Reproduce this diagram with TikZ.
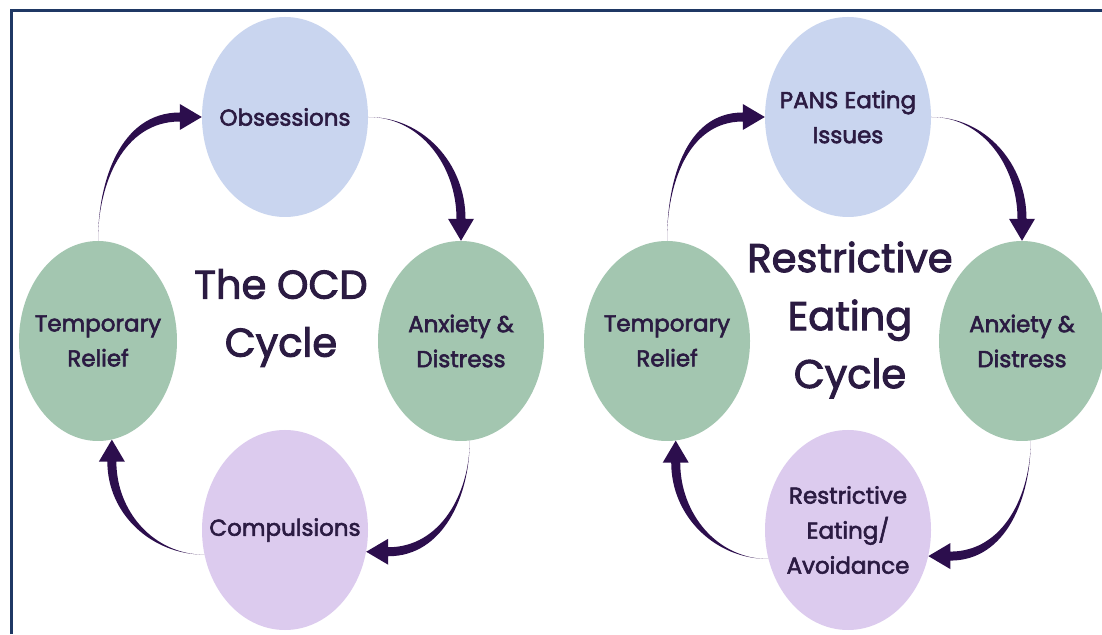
\documentclass[tikz,border=0pt]{standalone}
\usepackage{fontspec}
\setmainfont{Poppins}
\newfontfamily\cyclefont{Poppins}[FakeBold=2.5]
\usetikzlibrary{shapes.geometric, calc}

\definecolor{inkpurple}{HTML}{2B1B42}
\definecolor{arrowpurple}{HTML}{2C0E4D}
\definecolor{framenavy}{HTML}{1F3864}
\definecolor{stageblue}{HTML}{C9D5EF}
\definecolor{stagegreen}{HTML}{A3C6B0}
\definecolor{stagelilac}{HTML}{DCCBEE}

\tikzset{
  % Stages of a cycle
  stage/.style={
    ellipse, minimum width=166pt, minimum height=200pt,
    fill=#1, draw=none, inner sep=0pt,
  },
  stage/.default={stageblue},
  stagetext/.style={
    align=center, text=inkpurple,
    font=\cyclefont\fontsize{23}{35}\selectfont,
  },
  % Big caption in the middle
  cycletitle/.style={
    align=center, text=inkpurple,
    font=\cyclefont\fontsize{40}{58}\selectfont,
  },
  framestyle/.style={draw=framenavy, line width=3pt},
}

\newcommand{\headlen}{22}
\newcommand{\headwid}{13}
\newcommand{\shaftwid}{4.5}

% tapered bent arrow: tail, tip, out angle, in angle
\newcommand{\cyclearrow}[4]{%
  \fill[arrowpurple] (#1) to[out=#3,in=#4] ($(#2)+(#4:\headlen)+(#4+90:\shaftwid)$)
    -- ($(#2)+(#4:\headlen)+(#4+90:\headwid)$) -- (#2)
    -- ($(#2)+(#4:\headlen)+(#4-90:\headwid)$)
    -- ($(#2)+(#4:\headlen)+(#4-90:\shaftwid)$)
    to[out=#4,in=#3] (#1) -- cycle;
}

\begin{document}
\begin{tikzpicture}[x=1pt, y=1pt]

  \useasboundingbox (0,0) rectangle (1102,634);
  \fill[white] (0,0) rectangle (1102,634);

  % frame
  \draw[framestyle] (11.5,0) -- (11.5,623.5) -- (1102,623.5);

  % OCD cycle
  \node[stage=stageblue, label={[stagetext]center:Obsessions}] (obs) at (285,517) {};
  \node[stage=stagegreen, label={[stagetext]center:{Anxiety \&\\Distress}}] (anx) at (461,293) {};
  \node[stage=stagelilac, label={[stagetext]center:Compulsions}] (comp) at (285,104) {};
  \node[stage=stagegreen, minimum width=158pt,
        label={[stagetext]center:{Temporary\\Relief}}] (relief) at (98,293) {};
  \node[cycletitle] (ocdtitle) at (281,316) {The OCD\\Cycle};

  \cyclearrow{obs.east}{anx.north}{0}{90}
  \cyclearrow{anx.-85}{comp.-15}{-90}{0}
  \cyclearrow{comp.197}{relief.-82}{180}{-90}
  \cyclearrow{relief.north}{obs.west}{90}{180}

  % Restrictive eating cycle
  \node[stage=stageblue, label={[stagetext]center:{PANS Eating\\Issues}}] (pans) at (848,517) {};
  \node[stage=stagegreen, label={[stagetext]center:{Anxiety \&\\Distress}}] (anx2) at (1022,293) {};
  \node[stage=stagelilac, label={[stagetext]center:{Restrictive\\Eating/\\Avoidance}}] (restrict) at (848,104) {};
  \node[stage=stagegreen, label={[stagetext]center:{Temporary\\Relief}}] (relief2) at (667,293) {};
  \node[cycletitle] (eattitle) at (850,314) {Restrictive\\Eating\\Cycle};

  \cyclearrow{pans.east}{anx2.north}{0}{90}
  \cyclearrow{anx2.-85}{restrict.-18}{-90}{0}
  \cyclearrow{restrict.200}{relief2.-85}{180}{-90}
  \cyclearrow{relief2.north}{pans.west}{90}{180}

\end{tikzpicture}
\end{document}
